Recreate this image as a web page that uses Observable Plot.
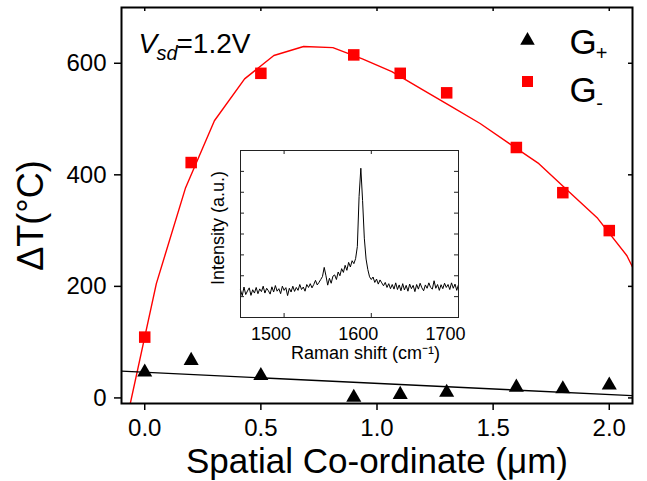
<!DOCTYPE html>
<html><head><meta charset="utf-8">
<script src="https://cdn.jsdelivr.net/npm/d3@7"></script>
<script src="https://cdn.jsdelivr.net/npm/@observablehq/plot@0.6"></script>
<style>
body{margin:0;background:#fff;}
#wrap{position:relative;width:647px;height:481px;font-family:"Liberation Sans",Arial,sans-serif;}
#main{position:absolute;left:0;top:0;}
#inset{position:absolute;left:200px;top:140px;}
</style></head><body><div id="wrap"><div id="main"></div><div id="inset"></div></div>
<script>
// ---- main chart data ----
const position = [0, 0.2, 0.5, 0.9, 1.1, 1.3, 1.6, 1.8, 2.0];
const gPlus  = [46, 67, 40, 1, 6, 10, 19, 16, 23];
const gMinus = [109, 422, 582, 615, 582, 547, 449, 368, 300];
const fitX = [-0.07, 0.05, 0.176, 0.30, 0.43, 0.556, 0.684, 0.81, 0.937, 1.064, 1.19, 1.317, 1.444, 1.57, 1.697, 1.823, 1.95, 2.076, 2.2];
const fitY = [-25, 205, 377, 497, 572, 614, 630, 628, 608, 585, 554, 523, 492, 456, 420, 371, 322, 255, 150];
const linX = [-0.1, 2.1];
const linY = [48, 4];
const xTicks = [0, 0.5, 1.0, 1.5, 2.0];
const yTicks = [0, 200, 400, 600];
const xLabel = "Spatial Co-ordinate (μm)";
const yLabel = "ΔT(°C)";
const legendLabels = ["G", "G"];
const legendSubs = ["+", "-"];

// ---- inset data ----
const ramanShift = [
1450,1452,1454,1456,1458,1460,1462,1464,1466,1468,1470,1472,1474,1476,1478,1480,1482,1484,1486,1488,
1490,1492,1494,1496,1498,1500,1502,1504,1506,1508,1510,1512,1514,1516,1518,1520,1522,1524,1526,1528,
1530,1532,1534,1536,1538,1540,1542,1544,1546,1548,1550,1552,1554,1556,1558,1560,1562,1564,1566,1568,
1570,1572,1574,1576,1578,1580,1582,1584,1586,1588,1590,1592,1594,1596,1598,1600,1602,1604,1606,1608,
1610,1612,1614,1616,1618,1620,1622,1624,1626,1628,1630,1632,1634,1636,1638,1640,1642,1644,1646,1648,
1650,1652,1654,1656,1658,1660,1662,1664,1666,1668,1670,1672,1674,1676,1678,1680,1682,1684,1686,1688,
1690,1692,1694,1696,1698,1700];
const intensity = [
1.32,1.04,1.46,1.10,1.27,1.42,1.06,1.33,1.17,1.44,1.14,1.37,1.24,1.50,1.17,1.40,1.28,1.12,1.47,1.22,
1.53,1.26,1.38,1.14,1.50,1.30,1.43,1.05,1.40,1.22,1.50,1.25,1.44,1.30,1.58,1.34,1.46,1.26,1.58,1.44,
1.62,1.42,1.58,1.78,1.56,1.68,1.82,1.96,2.40,2.00,1.55,1.88,1.64,1.98,2.04,1.82,2.18,2.00,2.34,2.16,
2.50,2.26,2.64,2.42,2.72,2.58,2.82,3.40,5.80,7.15,5.60,3.80,2.80,2.30,1.95,1.82,1.94,1.68,1.84,1.60,
1.80,1.66,1.52,1.68,1.44,1.62,1.38,1.58,1.36,1.66,1.34,1.56,1.28,1.62,1.32,1.54,1.26,1.60,1.38,1.54,
1.24,1.58,1.36,1.64,1.42,1.28,1.56,1.40,1.66,1.44,1.36,1.76,1.40,1.58,1.30,1.57,1.38,1.64,1.44,1.58,
1.34,1.66,1.40,1.60,1.30,1.58];
const insetXTicks = [1500, 1600, 1700];
const insetYTicks = [1, 2, 3, 4, 5, 6, 7];
const insetXLabel = "Raman shift (cm⁻¹)";
const insetYLabel = "Intensity (a.u.)";

const FONT = '"Liberation Sans", Arial, sans-serif';
const RED = "#ff0000";

const pts = position.map((x, i) => ({x, plus: gPlus[i], minus: gMinus[i]}));
const fit = fitX.map((x, i) => ({x, y: fitY[i]}));
const lin = linX.map((x, i) => ({x, y: linY[i]}));

const W = 647, H = 481, mL = 121, mR = 15, mT = 7, mB = 78;
const fW = W - mL - mR, fH = H - mT - mB;
const T = (extra) => Object.assign({text: d => d, fill: "black", lineAnchor: "middle", textAnchor: "middle"}, extra);

const main = Plot.plot({
  width: W, height: H,
  marginLeft: mL, marginRight: mR, marginTop: mT, marginBottom: mB,
  style: {fontFamily: FONT, fontSize: "24px", color: "black", background: "white", overflow: "visible"},
  x: {domain: [-0.1, 2.1], label: null},
  y: {domain: [-10, 700], label: null},
  marks: [
    Plot.line(fit, {x: "x", y: "y", stroke: RED, strokeWidth: 1.4, clip: true}),
    Plot.line(lin, {x: "x", y: "y", stroke: "black", strokeWidth: 1.4, clip: true}),
    Plot.dot(pts, {x: "x", y: "minus", symbol: "square", fill: RED, r: 6.5}),
    Plot.dot(pts, {x: "x", y: "plus", symbol: "triangle", fill: "black", r: 5.6}),
    Plot.frame({stroke: "black", strokeWidth: 2}),
    Plot.axisX({ticks: xTicks, tickFormat: d3.format(".1f"), tickSize: 7, tickPadding: 8, fontSize: 24, strokeWidth: 1.5, label: null}),
    Plot.axisY({ticks: yTicks, tickSize: 7, tickPadding: 8, fontSize: 24, strokeWidth: 1.5, label: null}),
    Plot.tickX(xTicks, {x: d => d, insetBottom: fH - 4, stroke: "black", strokeWidth: 1.5}),
    Plot.tickY(yTicks, {y: d => d, insetLeft: fW - 4, stroke: "black", strokeWidth: 1.5}),
    Plot.text([yLabel], T({frameAnchor: "left", rotate: -90, dx: -90, dy: 10, fontSize: 36})),
    Plot.text([xLabel], T({frameAnchor: "bottom", dy: 58, fontSize: 35})),
    // V_sd = 1.2V annotation
    Plot.text(["V"], T({frameAnchor: "top-left", textAnchor: "start", dx: 17, dy: 37, fontSize: 28, fontStyle: "italic"})),
    Plot.text(["sd"], T({frameAnchor: "top-left", textAnchor: "start", dx: 35, dy: 46, fontSize: 20, fontStyle: "italic"})),
    Plot.text(["=1.2V"], T({frameAnchor: "top-left", textAnchor: "start", dx: 55, dy: 37, fontSize: 28})),
    // legend
    Plot.dot([0], {frameAnchor: "top-right", dx: -105, dy: 33, symbol: "triangle", fill: "black", r: 5.4}),
    Plot.dot([0], {frameAnchor: "top-right", dx: -105, dy: 74, symbol: "square", fill: RED, r: 6.2}),
    Plot.text([legendLabels[0]], T({frameAnchor: "top-right", textAnchor: "start", dx: -63, dy: 35, fontSize: 35})),
    Plot.text([legendSubs[0]], T({frameAnchor: "top-right", dx: -31, dy: 46, fontSize: 20})),
    Plot.text([legendLabels[1]], T({frameAnchor: "top-right", textAnchor: "start", dx: -63, dy: 83, fontSize: 35})),
    Plot.text([legendSubs[1]], T({frameAnchor: "top-right", dx: -33, dy: 96, fontSize: 20}))
  ]
});
document.getElementById("main").append(main);

const spec = ramanShift.map((x, i) => ({x, y: intensity[i]}));
const iW = 268, iH = 230, iL = 40, iR = 10, iT = 10, iB = 53;
const ifW = iW - iL - iR, ifH = iH - iT - iB;
const inset = Plot.plot({
  width: iW, height: iH,
  marginLeft: iL, marginRight: iR, marginTop: iT, marginBottom: iB,
  style: {fontFamily: FONT, fontSize: "18px", color: "black", background: "transparent", overflow: "visible"},
  x: {domain: [1450, 1700], label: null},
  y: {domain: [0, 8], label: null, axis: null},
  marks: [
    Plot.line(spec, {x: "x", y: "y", stroke: "black", strokeWidth: 1}),
    Plot.frame({stroke: "#222", strokeWidth: 1}),
    Plot.axisX({ticks: insetXTicks, tickFormat: d => String(d), tickSize: 0, tickPadding: 10, dx: -13, fontSize: 18, label: null}),
    Plot.tickX(insetXTicks, {x: d => d, insetTop: ifH - 4, stroke: "#222"}),
    Plot.tickX(insetXTicks, {x: d => d, insetBottom: ifH - 4, stroke: "#222"}),
    Plot.tickY(insetYTicks, {y: d => d, insetRight: ifW - 4, stroke: "#222"}),
    Plot.tickY(insetYTicks, {y: d => d, insetLeft: ifW - 4, stroke: "#222"}),
    Plot.text([insetXLabel], T({frameAnchor: "bottom", dx: 16, dy: 36, fontSize: 18})),
    Plot.text([insetYLabel], T({frameAnchor: "left", rotate: -90, dx: -22, dy: -6, fontSize: 18}))
  ]
});
document.getElementById("inset").append(inset);
</script>
</body></html>
